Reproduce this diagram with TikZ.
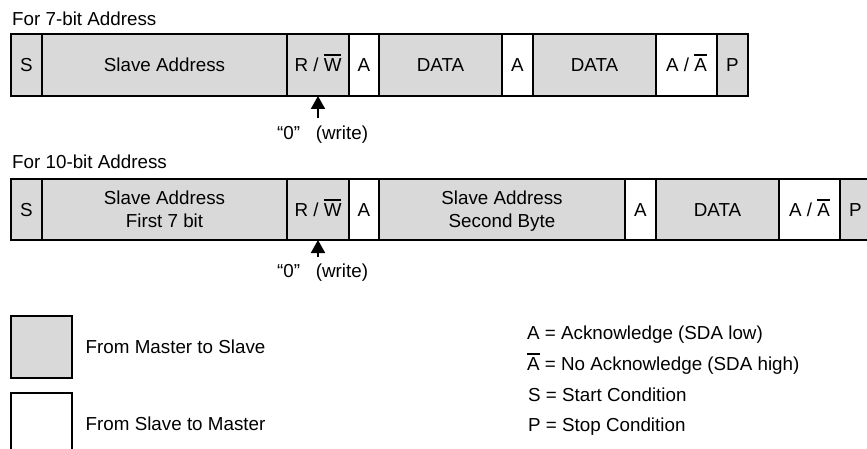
\documentclass[tikz,border=0pt]{standalone}
\usepackage{fontspec}
\setmainfont{Liberation Sans}
\usepackage{xcolor}
\usetikzlibrary{arrows.meta,positioning}
\definecolor{mgray}{HTML}{D9D9D9}
\newcommand{\ovl}[1]{\vbox{\hrule height 2pt\kern 2.5pt\hbox{#1}}}
\tikzset{
  cell/.style={draw=black,line width=2.2pt,inner sep=0pt,outer sep=0pt,align=center,anchor=west,text depth=0pt},
  ar/.style={-{Triangle[length=13pt,width=14pt]},line width=2pt},
  lbl/.style={inner sep=0pt,anchor=base west}
}
\begin{document}
\begin{tikzpicture}[x=1pt,y=-1pt,font=\fontsize{18.8}{23}\selectfont]
\useasboundingbox (0,0) rectangle (867,449);
\clip (0,0) rectangle (867,449);
\node[lbl] (h1) at (12,26) {For 7-bit Address};
\foreach \n/\a/\b/\f/\h/\t in {s/11/42/mgray/13.5/S, sa/42/287/mgray/13.5/Slave Address,
  rw/287/349/mgray/13.5/{R / \ovl{W}}, a/349/379/white/13.5/A, d/379/502/mgray/13.5/DATA,
  b/502/533/white/13.5/A, e/533/656/mgray/13.5/DATA, n/656/717/white/13.5/{A / \ovl{A}},
  p/717/748/mgray/13.5/P}
  \node[cell,fill=\f,minimum width={(\b-\a)*1pt},minimum height=62pt,text height=\h pt] (r1\n) at (\a,65) {\t};
\coordinate (t1) at (318,118);
\draw[ar] (t1) -- (r1rw.south);
\node[lbl] (w1) at (277,140) {“0”\hspace{15.7pt}(write)};

\node[lbl] (h2) at (12,169) {For 10-bit Address};
\foreach \n/\a/\b/\f/\h/\t in {s/11/42/mgray/13.5/S, sa/42/287/mgray/36.5/{Slave Address\\First 7 bit},
  rw/287/349/mgray/13.5/{R / \ovl{W}}, a/349/379/white/13.5/A, sb/379/625/mgray/36.5/{Slave Address\\Second Byte},
  b/625/656/white/13.5/A, d/656/779/mgray/13.5/DATA, n/779/840/white/13.5/{A / \ovl{A}},
  p/840/871/mgray/13.5/P}
  \node[cell,fill=\f,minimum width={(\b-\a)*1pt},minimum height=61pt,text height=\h pt] (r2\n) at (\a,209.5) {\t};
\coordinate (t2) at (318,257);
\draw[ar] (t2) -- (r2rw.south);
\node[lbl] (w2) at (277,277) {“0”\hspace{15.7pt}(write)};

\node[cell,fill=mgray,minimum width=61pt,minimum height=62pt] (lgm) at (11,347) {};
\node[cell,fill=white,minimum width=61pt,minimum height=62pt] (lgs) at (11,424) {};
\node[lbl] (lm) at (85.5,353) {From Master to Slave};
\node[lbl] (ls) at (85.5,430) {From Slave to Master};
\node[lbl] (ka) at (527,339) {A = Acknowledge (SDA low)};
\node[lbl] (kn) at (527,370) {\ovl{A} = No Acknowledge (SDA high)};
\node[lbl] (ks) at (528,401) {S = Start Condition};
\node[lbl] (kp) at (528,431) {P = Stop Condition};
\end{tikzpicture}
\end{document}
